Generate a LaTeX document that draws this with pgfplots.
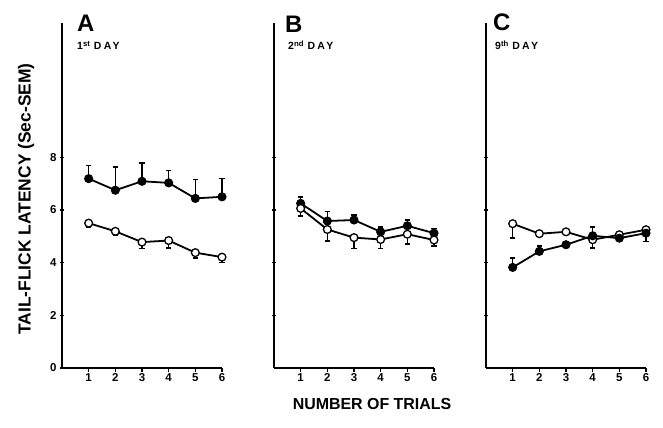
\documentclass[border=0pt]{standalone}
\usepackage{fontspec}
\setmainfont{Liberation Sans}
\usepackage{pgfplots}
\usepackage{pgfplotstable}
\pgfplotsset{compat=1.18}

\pgfplotstableread{
x y e
1 7.19 0.50
2 6.75 0.88
3 7.09 0.69
4 7.03 0.47
5 6.44 0.71
6 6.50 0.69
}\Afill
\pgfplotstableread{
x y e
1 5.50 0.15
2 5.19 0.14
3 4.78 0.24
4 4.84 0.28
5 4.38 0.21
6 4.21 0.21
}\Aopen
\pgfplotstableread{
x y e
1 6.25 0.24
2 5.58 0.36
3 5.62 0.18
4 5.17 0.19
5 5.40 0.21
6 5.12 0.17
}\Bfill
\pgfplotstableread{
x y e
1 6.06 0.29
2 5.26 0.43
3 4.95 0.41
4 4.88 0.34
5 5.08 0.38
6 4.86 0.22
}\Bopen
\pgfplotstableread{
x y e
1 3.82 0.36
2 4.43 0.21
3 4.68 0.10
4 5.02 0.34
5 4.93 0.07
6 5.12 0.21
}\Cfill
\pgfplotstableread{
x y e
1 5.48 0.55
2 5.10 0.10
3 5.17 0.05
4 4.87 0.32
5 5.06 0.05
6 5.25 0.45
}\Copen

\pgfplotsset{
 panel/.style={
  scale only axis, width=160bp, height=345bp,
  xmin=0, xmax=6, ymin=0, ymax=13.1,
  axis x line*=bottom, axis y line*=left,
  axis line style={line width=1.8pt, -},
  xtick={1,...,6}, ytick={2,4,6,8},
  tick style={black, line width=1.2pt}, major tick length=4bp,
  tick align=center,
  x tick style={yshift=-2bp},
  ticklabel style={font=\bfseries\fontsize{11.5}{13}\selectfont},
  /pgf/number format/assume math mode=true,
  clip=false,
 },
 filled/.style={black, line width=1.8pt, mark=*, mark size=3.9bp,
  mark options={fill=black, solid, line width=1.3pt},
  error bars/.cd, y dir=plus, y explicit, error mark=-,
  error bar style={line width=1.6pt, black},
  error mark options={rotate=90, mark size=2.6bp, line width=1.6pt, black}},
 open/.style={black, line width=1.8pt, mark=*, mark size=3.9bp,
  mark options={fill=white, solid, line width=1.3pt},
  error bars/.cd, y dir=minus, y explicit, error mark=-,
  error bar style={line width=1.6pt, black},
  error mark options={rotate=90, mark size=2.6bp, line width=1.6pt, black}},
}

\newcommand{\daylab}[2]{#1\raisebox{3bp}{\fontsize{7.8}{8}\selectfont #2}\hspace{4bp}{\addfontfeatures{LetterSpace=22}DAY}}

\begin{document}
\begin{tikzpicture}
\useasboundingbox (0,0) rectangle (663bp,428bp);

\begin{axis}[panel, at={(62bp,60bp)}, anchor=south west, ytick={0,2,4,6,8}]
\addplot[filled] table[x=x, y=y, y error=e] {\Afill};
\addplot[open] table[x=x, y=y, y error=e] {\Aopen};
\end{axis}

\begin{axis}[panel, at={(274bp,60bp)}, anchor=south west, yticklabels={}]
\addplot[filled] table[x=x, y=y, y error=e] {\Bfill};
\addplot[open] table[x=x, y=y, y error=e] {\Bopen};
\end{axis}

\begin{axis}[panel, at={(486bp,60bp)}, anchor=south west, yticklabels={}]
\addplot[open] table[x=x, y=y, y error=e] {\Copen};
\addplot[filled] table[x=x, y=y, y error=e] {\Cfill};
\end{axis}

\node[anchor=north west, inner sep=0, font=\bfseries\fontsize{24}{24}\selectfont] at (77bp,413bp) {A};
\node[anchor=north west, inner sep=0, font=\bfseries\fontsize{24}{24}\selectfont] at (285bp,412bp) {B};
\node[anchor=north west, inner sep=0, font=\bfseries\fontsize{24}{24}\selectfont] at (493bp,414bp) {C};

\node[anchor=north west, inner sep=0, font=\bfseries\fontsize{10.5}{11}\selectfont] at (77bp,387bp) {\daylab{1}{st}};
\node[anchor=north west, inner sep=0, font=\bfseries\fontsize{10.5}{11}\selectfont] at (288bp,387bp) {\daylab{2}{nd}};
\node[anchor=north west, inner sep=0, font=\bfseries\fontsize{10.5}{11}\selectfont] at (495bp,387bp) {\daylab{9}{th}};

\node[rotate=90, inner sep=0, font=\bfseries\fontsize{17.5}{18}\selectfont] at (26bp,229bp) {TAIL-FLICK LATENCY (Sec-SEM)};
\node[inner sep=0, font=\bfseries\fontsize{16}{18}\selectfont] at (372bp,24bp) {NUMBER OF TRIALS};
\end{tikzpicture}
\end{document}
